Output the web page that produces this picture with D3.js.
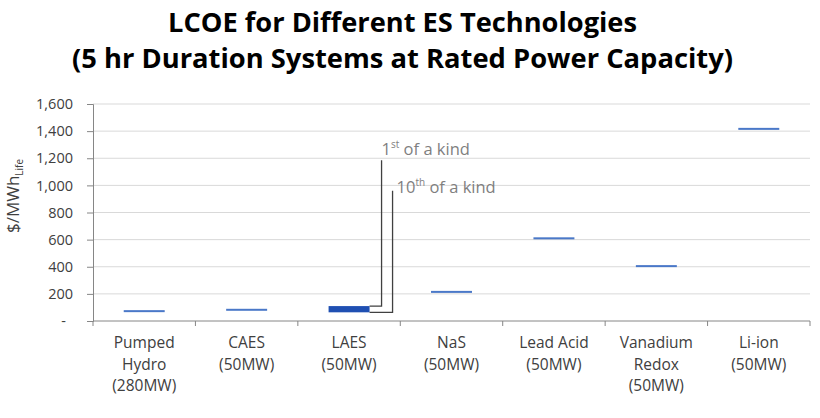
<!DOCTYPE html>
<html>
<head>
<meta charset="utf-8">
<script src="https://cdn.jsdelivr.net/npm/d3@7"></script>
<style>
  body { margin: 0; background: #fff; }
  text { font-family: "Open Sans", "Liberation Sans", sans-serif; }
</style>
</head>
<body>
<div id="chart-area"></div>
<script>
// chart data
const categories = ["Pumped Hydro", "CAES", "LAES", "NaS", "Lead Acid", "Vanadium Redox", "Li-ion"];
const catLines = [
  ["Pumped", "Hydro", "(280MW)"],
  ["CAES", "(50MW)"],
  ["LAES", "(50MW)"],
  ["NaS", "(50MW)"],
  ["Lead Acid", "(50MW)"],
  ["Vanadium", "Redox", "(50MW)"],
  ["Li-ion", "(50MW)"]
];
const lowValues = [68, 78, 64, 210, 605, 400, 1412];   // 10th of a kind
const highValues = [80, 90, 110, 222, 617, 412, 1424]; // 1st of a kind
const yTicks = [0, 200, 400, 600, 800, 1000, 1200, 1400, 1600];

const W = 820, H = 418;
const m = { t: 104, l: 93, r: 10, b: 97 };

const svg = d3.select("#chart-area")
  .append("svg")
  .attr("width", W)
  .attr("height", H);

const x = d3.scaleBand()
  .domain(categories)
  .range([m.l, W - m.r])
  .paddingInner(0.6)
  .paddingOuter(0.3);

const y = d3.scaleLinear()
  .domain([0, 1600])
  .range([H - m.b, m.t]);

// title
const title = svg.append("g")
  .attr("font-weight", "bold")
  .attr("fill", "#000");
const t1 = title.append("text")
  .attr("x", 402.5).attr("y", 32)
  .attr("text-anchor", "middle")
  .attr("font-size", "26.5px")
  .text("LCOE for Different ES Technologies");
const t2 = title.append("text")
  .attr("x", 402.5).attr("y", 68)
  .attr("text-anchor", "middle")
  .attr("font-size", "26.5px")
  .text("(5 hr Duration Systems at Rated Power Capacity)");
// squeeze to Calibri-like widths
[[t1, 469], [t2, 661]].forEach(([t, wd]) => {
  t.attr("textLength", wd).attr("lengthAdjust", "spacingAndGlyphs");
});

// gridlines
svg.append("g")
  .selectAll("line")
  .data(yTicks.filter(d => d > 0))
  .join("line")
  .attr("x1", m.l).attr("x2", W - m.r)
  .attr("y1", d => y(d)).attr("y2", d => y(d))
  .attr("stroke", "#d9d9d9")
  .attr("stroke-width", 1);

// y axis
const yAxis = svg.append("g")
  .attr("transform", "translate(" + m.l + ",0)")
  .call(d3.axisLeft(y).tickValues(yTicks).tickSize(6).tickPadding(14)
    .tickFormat(d => d === 0 ? "-" : d3.format(",")(d)));
yAxis.select(".domain").attr("stroke", "#868686");
yAxis.selectAll(".tick line").attr("stroke", "#868686");
yAxis.selectAll(".tick text")
  .attr("font-size", "14.5px")
  .attr("fill", "#404040")
  .attr("font-family", "'Open Sans', sans-serif")
  .attr("dx", d => d === 0 ? -7 : 0);

// x axis
const xBase = y(0);
const xg = svg.append("g");
xg.append("line")
  .attr("x1", m.l).attr("x2", W - m.r)
  .attr("y1", xBase).attr("y2", xBase)
  .attr("stroke", "#868686");
const bounds = categories.map(c => x(c) - x.step() * x.paddingInner() / 2)
  .concat([W - m.r]);
xg.selectAll(".xt")
  .data(bounds)
  .join("line")
  .attr("class", "xt")
  .attr("x1", d => d).attr("x2", d => d)
  .attr("y1", xBase).attr("y2", xBase + 5)
  .attr("stroke", "#868686");

const labels = xg.selectAll(".cl")
  .data(categories)
  .join("text")
  .attr("class", "cl")
  .attr("text-anchor", "middle")
  .attr("font-size", "15.5px")
  .attr("fill", "#404040")
  .attr("transform", d => "translate(" + (x(d) + x.bandwidth() / 2) + ",0)");
labels.each(function (d, i) {
  d3.select(this).selectAll("tspan")
    .data(catLines[i])
    .join("tspan")
    .attr("x", 0)
    .attr("y", (s, j) => xBase + 27 + j * 21.5)
    .text(s => s);
});

// y axis label
const yl = svg.append("text")
  .attr("transform", "translate(19,196) rotate(-90)")
  .attr("text-anchor", "middle")
  .attr("font-size", "17px")
  .attr("fill", "#404040");
yl.append("tspan").text("$/MWh");
yl.append("tspan").attr("font-size", "10px").attr("dy", 4).text("Life");

// range bars
svg.append("g")
  .selectAll("rect")
  .data(categories)
  .join("rect")
  .attr("x", d => x(d))
  .attr("width", x.bandwidth())
  .attr("y", (d, i) => y(highValues[i]))
  .attr("height", (d, i) => Math.max(2, y(lowValues[i]) - y(highValues[i])))
  .attr("fill", (d, i) => highValues[i] - lowValues[i] > 20 ? "#1f4fb2" : "#4a78c8");

// annotations on LAES
const li = categories.indexOf("LAES");
const barRight = x("LAES") + x.bandwidth();
const ann = [
  { v: highValues[li], dx: 12, top: 1185, tx: 0, ty: -5, sup: "st", pre: "1", post: " of a kind" },
  { v: lowValues[li], dx: 23, top: 960, tx: 4, ty: 2, sup: "th", pre: "10", post: " of a kind" }
];
ann.forEach(a => {
  const xx = barRight + a.dx;
  svg.append("path")
    .attr("d", "M" + barRight + "," + y(a.v) + "H" + xx + "V" + y(a.top))
    .attr("fill", "none")
    .attr("stroke", "#404040")
    .attr("stroke-width", 1.3);
  const tx = svg.append("text")
    .attr("x", xx + a.tx)
    .attr("y", y(a.top) + a.ty)
    .attr("font-size", "16.5px")
    .attr("fill", "#7f7f7f");
  tx.append("tspan").text(a.pre);
  tx.append("tspan").attr("font-size", "10px").attr("dy", -7).text(a.sup);
  tx.append("tspan").attr("dy", 7).text(a.post);
});
</script>
</body>
</html>
